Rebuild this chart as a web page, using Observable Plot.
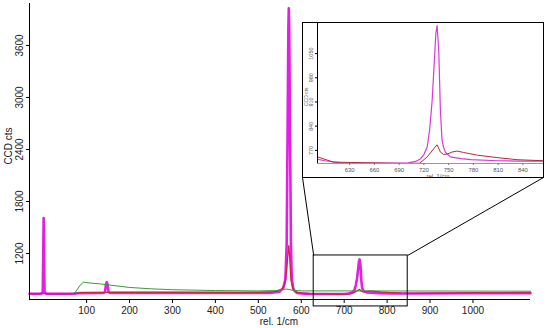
<!DOCTYPE html>
<html><head><meta charset="utf-8">
<script src="https://cdn.jsdelivr.net/npm/d3@7"></script>
<script src="https://cdn.jsdelivr.net/npm/@observablehq/plot@0.6"></script>
<style>
body{margin:0;background:#fff;}
#wrap{position:relative;width:553px;height:328px;font-family:"Liberation Sans",Arial,sans-serif;}
#inset{position:absolute;left:302px;top:22px;width:240px;height:154px;border:1px solid #000;background:#fff;overflow:hidden;}
svg{display:block;}
</style></head><body><div id="wrap"><div id="main"></div><div id="inset"></div></div>
<script>
// ---- data (wavenumber rel. 1/cm, CCD counts) ----
const magenta = [[-33,735],[-6,735],[-2,760],[-1,1200],[0,1610],[1,1200],[2,760],[6,735],[70,735],[80,742],
  [140,746],[143,760],[145,840],[147,869],[149,840],[151,760],[154,746],[300,745],[450,744],[530,746],
  [550,760],[558,800],[563,900],[566,1300],[568,2500],[570,3800],[571,4030],[572,3800],[574,2500],[576,1300],
  [578,900],[582,780],[590,745],[600,740],[620,734],[650,733],[700,733],[710,738],[716,746],[720,758],
  [724,780],[727,830],[730,914],[732,1000],[734.5,1108],[736,1131],[738,1059],[740,885],[742,799],[744,778],
  [746,765],[752,751],[765,746],[777,743],[809,740],[833,739],[865,739],[1000,741],[1134,742]];
const red = [[-33,737],[70,737],[90,748],[150,752],[300,752],[500,752],[540,760],[555,790],[562,850],[566,1000],
  [569,1200],[571,1290],[573,1150],[576,900],[580,800],[590,752],[610,736],[700,732],[715,733],[724,751],
  [732,775],[736,786],[740,765],[744,758],[749,760],[754,765],[760,768],[768,764],[785,756],[809,749],
  [833,743],[865,740],[1000,745],[1134,745]];
const green = [[68,737],[75,760],[85,835],[93,869],[110,858],[130,850],[150,838],[200,808],[250,792],[300,782],
  [400,772],[500,768],[540,772],[556,782],[565,790],[580,775],[600,768],[700,768],[1000,766],[1134,765]];

const xTicks = [100,200,300,400,500,600,700,800,900,1000];
const yTicks = [1200,1800,2400,3000,3600];
const insetXTicks = [630,660,690,720,750,780,810,840];
const insetYTicks = [770,840,910,980,1050];
const zoomBox = {x1: 629, x2: 848, y1: 589, y2: 1177};

const xDomain = [-33, 1134], yDomain = [669, 4084];
const insetXDomain = [591, 865], insetYDomain = [732, 1137];

const W = 553, H = 328, mL = 29, mR = 23, mT = 3, mB = 29;
const sx = Plot.scale({x: {domain: xDomain, range: [mL, W - mR]}});
const sy = Plot.scale({y: {domain: yDomain, range: [H - mB, mT]}});
// inset outer box, in page pixels
const insetBox = {left: 302, right: 543, bottom: 177};
const connectors = [
  {x1: zoomBox.x1, y1: zoomBox.y2, x2: sx.invert(insetBox.left), y2: sy.invert(insetBox.bottom)},
  {x1: zoomBox.x2, y1: zoomBox.y2, x2: sx.invert(insetBox.right), y2: sy.invert(insetBox.bottom)}
];

const font = {fontFamily: "'Liberation Sans', Arial, sans-serif", background: "white", overflow: "visible"};
const fmt = d => String(d);

const main = Plot.plot({
  width: W, height: H, marginLeft: mL, marginRight: mR, marginTop: mT, marginBottom: mB,
  style: {...font, fontSize: "10px"},
  x: {domain: xDomain}, y: {domain: yDomain},
  marks: [
    Plot.line(magenta, {x: d => d[0], y: d => d[1], stroke: "#e41fe4", strokeWidth: 2.6}),
    Plot.line(red, {x: d => d[0], y: d => d[1], stroke: "#c8283c", strokeWidth: 1.3}),
    Plot.line(green, {x: d => d[0], y: d => d[1], stroke: "#3a9a3a", strokeWidth: 1}),
    Plot.ruleY([yDomain[0]], {stroke: "#000"}),
    Plot.ruleX([xDomain[0]], {stroke: "#000"}),
    Plot.axisX({ticks: xTicks, tickFormat: fmt, tickSize: 4, tickPadding: 3, fontSize: 10, fill: "#222"}),
    Plot.axisY({ticks: yTicks, tickSize: 3, tickFormat: () => ""}),
    Plot.text(yTicks, {y: d => d, text: fmt, frameAnchor: "left", textAnchor: "middle", dx: -10, rotate: -90, fontSize: 10, fill: "#222"}),
    Plot.text(["CCD cts"], {frameAnchor: "left", textAnchor: "middle", y: [2440], dx: -21, rotate: -90, fontSize: 10, fill: "#222"}),
    Plot.text(["rel. 1/cm"], {frameAnchor: "bottom", textAnchor: "middle", lineAnchor: "middle", x: [548], dy: 22, fontSize: 10, fill: "#222"}),
    Plot.rect([zoomBox], {x1: "x1", x2: "x2", y1: "y1", y2: "y2", fill: "none", stroke: "#000"}),
    Plot.link(connectors, {x1: "x1", y1: "y1", x2: "x2", y2: "y2", stroke: "#000"})
  ]
});
document.getElementById("main").appendChild(main);

const inset = Plot.plot({
  width: 240, height: 154, marginLeft: 14, marginRight: 0, marginTop: 0, marginBottom: 14,
  style: {...font, fontSize: "6px"},
  x: {domain: insetXDomain}, y: {domain: insetYDomain},
  marks: [
    Plot.ruleY([insetYDomain[0]], {stroke: "#999"}),
    Plot.line(magenta, {x: d => d[0], y: d => d[1], stroke: "#d83ad8", strokeWidth: 1.2, clip: true}),
    Plot.line(red, {x: d => d[0], y: d => d[1], stroke: "#b8283a", strokeWidth: 1, clip: true}),
    Plot.ruleX([insetXDomain[0]], {stroke: "#000"}),
    Plot.axisX({ticks: insetXTicks, tickFormat: fmt, tickSize: 2, tickPadding: 2, fontSize: 6, fill: "#555", stroke: "#777"}),
    Plot.axisY({ticks: insetYTicks, tickSize: 2, tickFormat: () => ""}),
    Plot.text(insetYTicks, {y: d => d, text: fmt, frameAnchor: "left", textAnchor: "middle", dx: -6, rotate: -90, fontSize: 5.5, fill: "#555"}),
    Plot.text(["CCD cts"], {frameAnchor: "left", textAnchor: "middle", y: [925], dx: -11.5, rotate: -90, fontSize: 5, fill: "#555"}),
    Plot.text(["rel. 1/cm"], {frameAnchor: "bottom", textAnchor: "middle", lineAnchor: "middle", x: [737], dy: 13, fontSize: 6, fill: "#555"})
  ]
});
document.getElementById("inset").appendChild(inset);
</script></body></html>
